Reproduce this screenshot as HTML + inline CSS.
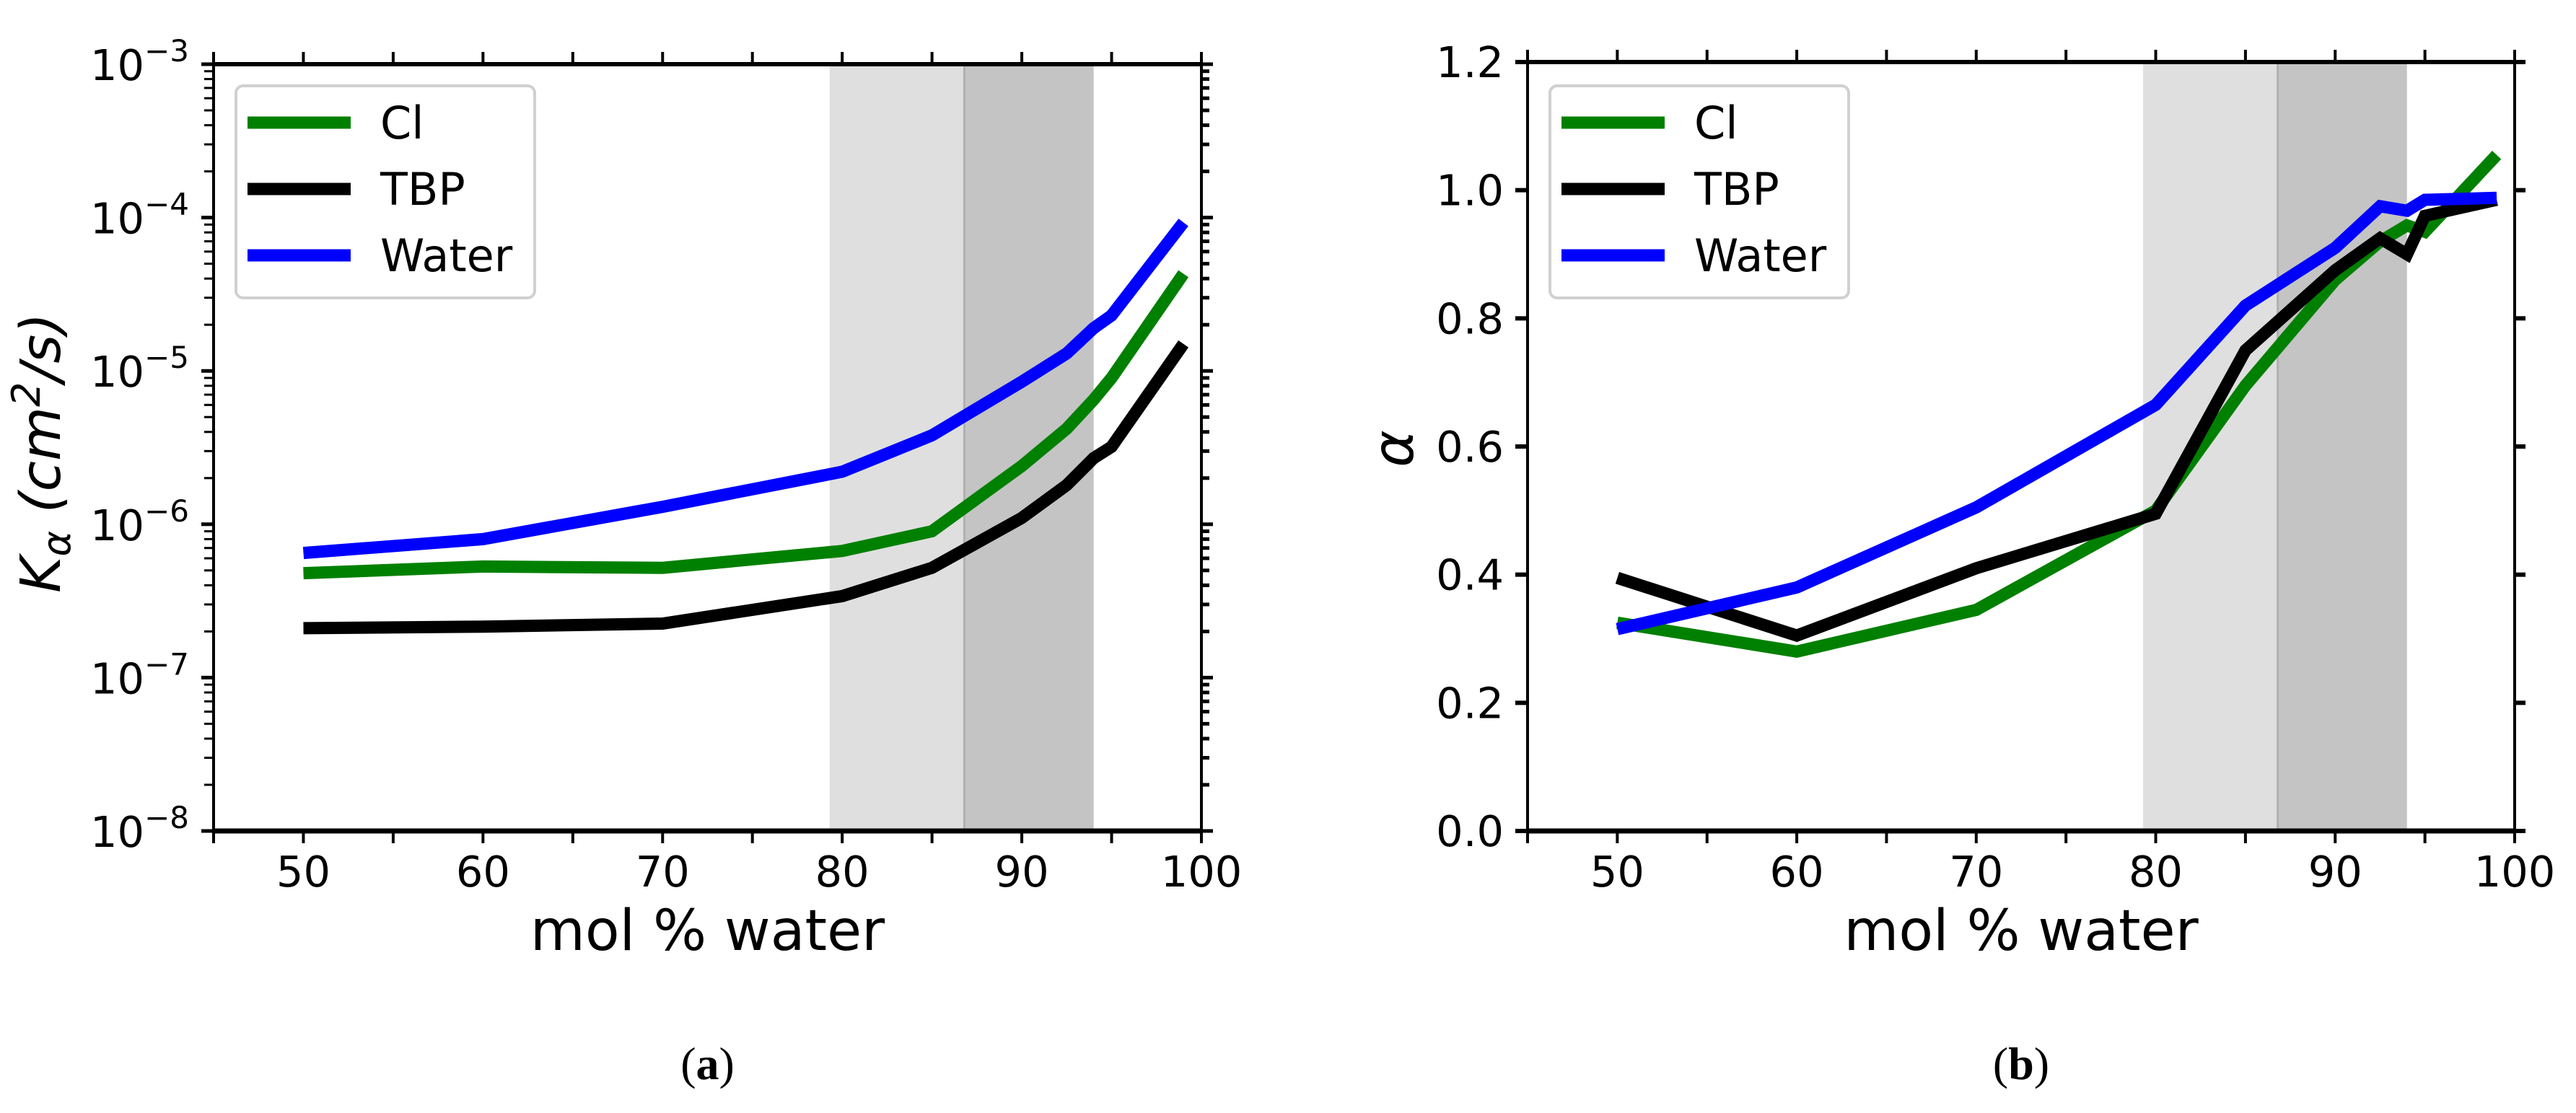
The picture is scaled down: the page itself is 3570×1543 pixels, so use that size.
<!DOCTYPE html>
<html><head><meta charset="utf-8"><style>
html,body{margin:0;padding:0;background:#fff;}
svg text{font-family:"DejaVu Sans","Liberation Sans",sans-serif;fill:#000;}
</style></head><body>
<svg id="fig" width="3570" height="1538" viewBox="0 0 3570 1538" xmlns="http://www.w3.org/2000/svg"></svg>
<script>
const xCats = [50, 60, 70, 80, 85, 90, 92.5, 94, 95, 99];
const kWater = [6.5e-7, 8e-7, 1.3e-6, 2.2e-6, 3.8e-6, 8.5e-6, 1.3e-5, 1.9e-5, 2.3e-5, 9.3e-5];
const kCl = [4.8e-7, 5.3e-7, 5.2e-7, 6.7e-7, 9e-7, 2.4e-6, 4.2e-6, 6.5e-6, 9e-6, 4.3e-5];
const kTBP = [2.1e-7, 2.15e-7, 2.25e-7, 3.4e-7, 5.2e-7, 1.1e-6, 1.8e-6, 2.7e-6, 3.2e-6, 1.5e-5];
const aWater = [0.315, 0.38, 0.505, 0.665, 0.82, 0.91, 0.975, 0.968, 0.985, 0.988];
const aCl = [0.325, 0.28, 0.345, 0.5, 0.695, 0.86, 0.92, 0.945, 0.935, 1.055];
const aTBP = [0.395, 0.305, 0.41, 0.495, 0.75, 0.875, 0.925, 0.9, 0.96, 0.985];
const xTicks = [50, 60, 70, 80, 90, 100];
const xMinor = [45, 55, 65, 75, 85, 95];
const logTicks = [-8, -7, -6, -5, -4, -3];
const linTicks = [0.0, 0.2, 0.4, 0.6, 0.8, 1.0, 1.2];
const bandLight = [79.3, 86.8];
const bandDark = [86.8, 94.0];
const seriesNames = ['Cl', 'TBP', 'Water'];

const NS = 'http://www.w3.org/2000/svg';
const svg = document.getElementById('fig');
function el(tag, attrs, parent) {
  const e = document.createElementNS(NS, tag);
  for (const k in attrs) e.setAttribute(k, attrs[k]);
  (parent || svg).appendChild(e);
  return e;
}

function drawPanel(p) {
  const g = el('g', {});
  
  
  const X = v => p.L + (v - 45) / 55 * (p.R - p.L);
  const Y = p.Y;
  const b1 = el('rect', {x: X(bandLight[0]), y: p.T, width: X(bandLight[1]) - X(bandLight[0]), height: p.B - p.T, fill: '#dfdfdf'}, g);
  
  
  const b2 = el('rect', {x: X(bandDark[0]), y: p.T, width: X(bandDark[1]) - X(bandDark[0]), height: p.B - p.T, fill: '#c4c4c4'}, g);
  
  
  el('line', {x1: X(bandDark[0]), x2: X(bandDark[0]), y1: p.T, y2: p.B, stroke: '#b0b0b0', 'stroke-width': 3}, g);
  const cols = ['#008000', '#000000', '#0000ff'];
  p.series.forEach((s, i) => {
    const pts = xCats.map((x, j) => X(x).toFixed(1) + ',' + Y(s[j]).toFixed(1)).join(' ');
    const pl = el('polyline', {points: pts, fill: 'none', stroke: cols[i], 'stroke-width': 17, 'stroke-linejoin': 'miter'}, g);
    
    
  });
  el('rect', {x: p.L, y: p.T, width: p.R - p.L, height: p.B - p.T, fill: 'none', stroke: '#000', 'stroke-width': 4}, g);
  el('line', {x1: p.L - 2, x2: p.R + 2, y1: p.B, y2: p.B, stroke: '#000', 'stroke-width': 7}, g);
  el('line', {x1: p.L - 2, x2: p.R + 2, y1: p.T, y2: p.T, stroke: '#000', 'stroke-width': 6}, g);
  xTicks.concat(xMinor).forEach(v => {
    el('line', {x1: X(v), x2: X(v), y1: p.B, y2: p.B + 17, stroke: '#000', 'stroke-width': 4}, g);
    el('line', {x1: X(v), x2: X(v), y1: p.T, y2: p.T - 17, stroke: '#000', 'stroke-width': 4}, g);
  });
  xTicks.forEach(v => {
    const t = el('text', {x: X(v), y: 1229, 'font-size': 59, 'text-anchor': 'middle'}, g);
    t.textContent = v;
    
    
  });
  const xl = el('text', {x: (p.L + p.R) / 2, y: 1317, 'font-size': 78, 'text-anchor': 'middle'}, g);
  xl.textContent = 'mol % water';
  
  
  const lg = el('g', {}, g);
  
  
  const lx = p.L + 31;
  el('rect', {x: lx, y: 119, width: 414, height: 294, rx: 10, fill: '#fff', 'fill-opacity': 0.85, stroke: '#d0d0d0', 'stroke-width': 4}, lg);
  seriesNames.forEach((n, i) => {
    const yy = 170 + i * 92;
    el('line', {x1: lx + 16, x2: lx + 159, y1: yy, y2: yy, stroke: cols[i], 'stroke-width': 17}, lg);
    const t = el('text', {x: lx + 200, y: yy + 22, 'font-size': 62}, lg);
    t.textContent = n;
    
    
  });
  p.yTicks(g, X);
  const cap = el('text', {x: (p.L + p.R) / 2, y: 1496, 'font-size': 64, 'text-anchor': 'middle', style: 'font-family:"Liberation Serif",serif'}, g);
  cap.innerHTML = '(<tspan font-weight="bold">' + p.cap + '</tspan>)';
  
  
}

const aT = 89, aB = 1152;
const YL = v => aB - (Math.log10(v) + 8) / 5 * (aB - aT);
drawPanel({name: 'panel-a-diffusion', L: 296, R: 1665, T: aT, B: aB, Y: YL, cap: 'a',
  series: [kCl, kTBP, kWater],
  yTicks: (g, X) => {
    logTicks.forEach(e => {
      const y = YL(Math.pow(10, e));
      el('line', {x1: 296, x2: 279, y1: y, y2: y, stroke: '#000', 'stroke-width': 5}, g);
      el('line', {x1: 1665, x2: 1681, y1: y, y2: y, stroke: '#000', 'stroke-width': 5}, g);
      const t = el('text', {x: 262, y: y + 22, 'font-size': 59, 'text-anchor': 'end'}, g);
      t.innerHTML = '10<tspan dy="-26" font-size="42">−' + (-e) + '</tspan>';
      
      
      if (e < -3) for (let m = 2; m <= 9; m++) {
        const ym = YL(m * Math.pow(10, e));
        el('line', {x1: 296, x2: 283, y1: ym, y2: ym, stroke: '#000', 'stroke-width': 3}, g);
        el('line', {x1: 1665, x2: 1676, y1: ym, y2: ym, stroke: '#000', 'stroke-width': 5}, g);
      }
    });
    const yl = el('text', {x: 0, y: 0, 'font-size': 77, 'text-anchor': 'start', transform: 'translate(83,822) rotate(-90)', 'font-style': 'italic'}, g);
    yl.innerHTML = 'K<tspan dy="14" font-size="54">α</tspan><tspan dy="-14"> (cm</tspan><tspan dy="-28" font-size="54">2</tspan><tspan dy="28">/s)</tspan>';
    
    
  }
});

const bT = 86, bB = 1152;
const YB = v => bB - v / 1.2 * (bB - bT);
drawPanel({name: 'panel-b-alpha', L: 2117, R: 3485, T: bT, B: bB, Y: YB, cap: 'b',
  series: [aCl, aTBP, aWater],
  yTicks: (g, X) => {
    linTicks.forEach(v => {
      const y = YB(v);
      el('line', {x1: 2117, x2: 2100, y1: y, y2: y, stroke: '#000', 'stroke-width': 6}, g);
      el('line', {x1: 3485, x2: 3500, y1: y, y2: y, stroke: '#000', 'stroke-width': 6}, g);
      const t = el('text', {x: 2084, y: y + 21, 'font-size': 59, 'text-anchor': 'end'}, g);
      t.textContent = v.toFixed(1);
      
      
    });
    const yl = el('text', {x: 0, y: 0, 'font-size': 78, 'text-anchor': 'middle', transform: 'translate(1958,622) rotate(-90)', 'font-style': 'italic'}, g);
    yl.textContent = 'α';
    
    
  }
});
</script>
</body></html>
